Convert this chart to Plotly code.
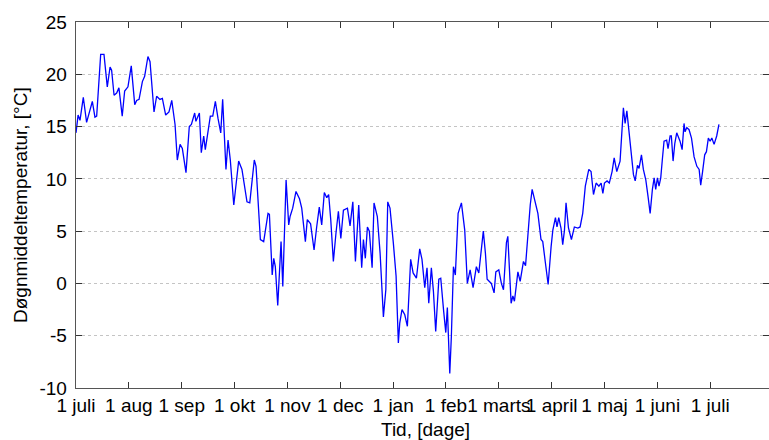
import plotly.graph_objects as go

# Days since 1 July and daily mean temperature
days = [0.0, 1.2, 2.3, 4.2, 6.1, 7.5, 9.4, 10.9, 11.9, 14.2, 16.1, 18.0, 19.6, 20.5, 21.9, 23.4, 24.7,
        26.6, 28.0, 29.9, 31.8, 33.8, 34.9, 36.3, 38.2, 39.5, 41.4, 42.6, 44.9, 46.4, 48.3, 49.7, 51.6,
        53.5, 55.1, 57.0, 58.3, 59.9, 61.2, 63.3, 65.2, 66.4, 68.3, 69.0, 71.0, 72.1, 73.5, 74.4, 77.3,
        78.7, 80.2, 81.7, 83.3, 84.4, 86.3, 87.5, 88.8, 90.8, 93.6, 95.5, 98.4, 100.0, 102.6, 103.6,
        106.1, 108.0, 110.5, 111.3, 112.9, 113.8, 114.7, 116.1, 118.0, 119.0, 120.9, 122.4, 123.2,
        124.7, 126.6, 128.6, 129.9, 132.0, 133.1, 135.0, 137.0, 138.5, 140.0, 141.4, 142.9, 144.3,
        145.4, 146.6, 148.1, 149.6, 151.0, 152.4, 153.9, 156.2, 157.7, 159.3, 160.8, 162.7, 164.4,
        165.4, 166.5, 167.7, 168.8, 170.4, 171.5, 173.4, 175.0, 176.9, 178.3, 179.4, 180.7, 182.6,
        184.2, 185.5, 186.3, 187.6, 189.2, 190.7, 192.6, 194.0, 195.9, 197.8, 199.1, 200.7, 202.0,
        203.0, 204.5, 205.7, 207.0, 208.8, 209.9, 211.6, 212.8, 213.7, 215.1, 216.0, 217.2, 218.3,
        219.9, 221.8, 223.7, 225.2, 226.8, 228.5, 230.4, 231.8, 233.3, 234.4, 235.6, 236.6, 239.0,
        240.6, 241.6, 243.3, 244.8, 246.0, 247.7, 248.5, 250.4, 251.4, 252.3, 254.3, 255.6, 257.5,
        258.7, 260.0, 261.4, 262.5, 264.4, 265.8, 267.6, 268.6, 270.1, 271.7, 273.4, 274.4, 275.9,
        276.8, 277.8, 279.1, 280.1, 281.1, 282.0, 283.4, 285.1, 286.8, 288.8, 290.1, 291.6, 293.1,
        295.1, 296.4, 297.8, 299.3, 300.9, 302.2, 303.2, 304.1, 305.6, 306.9, 308.5, 309.7, 311.2,
        313.1, 315.0, 316.0, 317.0, 317.7, 319.3, 320.8, 321.8, 323.1, 324.0, 325.4, 326.5, 327.9,
        329.2, 330.4, 331.7, 332.7, 333.6, 334.6, 335.5, 336.5, 337.4, 338.4, 339.9, 340.7, 341.9,
        342.6, 343.6, 344.6, 345.7, 346.5, 347.6, 348.8, 349.9, 350.5, 351.5, 352.8, 354.2, 355.7,
        357.3, 358.6, 359.5, 360.5, 361.8, 362.8, 363.9, 364.9, 365.9, 367.2, 368.7, 370.0]

temps = [14.4, 16.1, 15.6, 17.8, 15.4, 16.3, 17.4, 15.9, 16.0, 21.9, 21.9, 18.8, 20.7, 20.4, 18.0, 18.2, 18.7,
         16.0, 18.4, 18.8, 20.8, 17.1, 17.5, 17.6, 19.3, 19.8, 21.7, 21.2, 16.4, 17.9, 17.6, 17.7, 16.1,
         16.4, 17.5, 15.2, 11.8, 13.3, 12.9, 10.6, 15.0, 15.2, 16.3, 15.5, 16.3, 12.5, 14.1, 12.8, 16.0,
         16.0, 17.4, 15.8, 14.4, 17.6, 10.9, 13.7, 11.8, 7.5, 11.7, 10.9, 7.8, 7.7, 11.8, 11.2,
         4.2, 4.0, 6.7, 6.6, 0.8, 2.4, 1.6, -2.1, 4.0, -0.3, 9.9, 5.6, 6.4,
         7.2, 8.8, 8.1, 7.2, 4.0, 6.1, 5.7, 3.2, 5.4, 7.3, 5.6, 8.7, 8.2,
         8.5, 6.1, 2.1, 4.8, 6.9, 4.3, 7.0, 7.2, 5.5, 7.8, 2.1, 7.5, 1.5,
         4.2, 2.4, 5.4, 5.0, 1.5, 7.7, 6.4, 2.9, -3.2, -0.6, 7.8, 7.2, 3.9,
         0.7, -5.7, -3.8, -2.5, -3.0, -4.1, 2.3, 1.0, 0.5, 3.3, 2.3, -0.4, 1.5,
         -1.9, 1.5, -0.8, -4.6, 0.4, 0.5, -2.7, -4.7, -2.3, -8.6, -5.1, 1.6, 0.8,
         6.7, 7.7, 5.1, 0.0, 1.3, -0.4, 1.6, 1.0, 3.1, 5.0, 2.9, 0.4, 0.0,
         -0.9, 1.1, 1.3, 0.0, -0.6, 3.9, 4.5, -1.9, -1.2, -1.7, 1.1, 0.2, 2.1,
         1.7, 4.8, 7.5, 9.0, 7.7, 6.7, 4.2, 4.0, 2.0, -0.1, 3.5, 5.1, 6.3,
         5.4, 6.3, 5.3, 3.7, 5.1, 7.7, 5.3, 4.2, 5.4, 5.3, 5.4, 6.7, 9.3,
         10.9, 10.7, 8.5, 9.6, 9.3, 9.6, 8.6, 9.6, 9.8, 9.6, 10.7, 12.0, 10.7,
         11.7, 16.8, 15.3, 16.5, 15.3, 12.9, 10.4, 9.8, 11.3, 11.0, 12.3, 10.9, 9.9,
         8.3, 6.7, 9.0, 10.1, 9.0, 10.1, 9.3, 10.1, 11.8, 13.6, 13.7, 12.9, 14.1,
         14.1, 11.7, 13.4, 14.4, 14.1, 13.6, 12.8, 15.3, 14.5, 14.9, 14.7, 13.9, 12.1,
         11.2, 10.9, 9.4, 10.6, 12.3, 12.6, 13.9, 13.6, 13.9, 13.3, 14.1, 15.2]

month_ticks = [k * 365 / 12 for k in range(13)]
month_labels = ["1 juli", "1 aug", "1 sep", "1 okt", "1 nov", "1 dec", "1 jan",
                "1 feb", "1 marts", "1 april", "1 maj", "1 juni", "1 juli"]
y_ticks = [-10, -5, 0, 5, 10, 15, 20, 25]
y_labels = ["-10", "-5", "0", "5", "10", "15", "20", "25"]

FONT = "Arial, Liberation Sans, sans-serif"
FS = 19

fig = go.Figure()
fig.add_trace(go.Scatter(x=days, y=temps, mode="lines",
                         line=dict(color="#0000ff", width=1.3),
                         hoverinfo="skip", showlegend=False))

fig.update_layout(
    width=769, height=440,
    margin=dict(l=76, r=0, t=22, b=52, autoexpand=False),
    paper_bgcolor="white", plot_bgcolor="white",
    font=dict(family=FONT, size=FS, color="black"),
    xaxis=dict(range=[0, 398.8], tickvals=month_ticks, ticktext=month_labels,
               tickangle=0, automargin=False,
               ticks="inside", ticklen=6, tickcolor="#333333",
               showline=True, linecolor="#555555", linewidth=1.3, mirror="ticks",
               showgrid=False, zeroline=False,
               tickfont=dict(family=FONT, size=FS, color="black")),
    yaxis=dict(range=[-10, 25], tickvals=y_ticks, ticktext=y_labels,
               automargin=False,
               ticks="inside", ticklen=6, tickcolor="#333333",
               showline=True, linecolor="#555555", linewidth=1.3, mirror="ticks",
               showgrid=True, gridcolor="#c4c4c4", griddash="dot", gridwidth=1,
               zeroline=False, ticklabelstandoff=4,
               tickfont=dict(family=FONT, size=FS, color="black")),
    annotations=[
        dict(text="Døgnmiddeltemperatur, [°C]", xref="paper", yref="paper",
             x=(20 - 76) / 693, y=0.5, xanchor="center", yanchor="middle",
             textangle=-90, showarrow=False, font=dict(family=FONT, size=FS, color="black")),
        dict(text="Tid, [dage]", xref="paper", yref="paper",
             x=(425 - 76) / 693, y=(388 - 430) / 366, xanchor="center", yanchor="middle",
             showarrow=False, font=dict(family=FONT, size=FS, color="black")),
    ],
)

fig.write_html("out.html", config={"displayModeBar": False, "staticPlot": True},
               post_script="document.body.style.margin='0';document.body.style.overflow='hidden';")
